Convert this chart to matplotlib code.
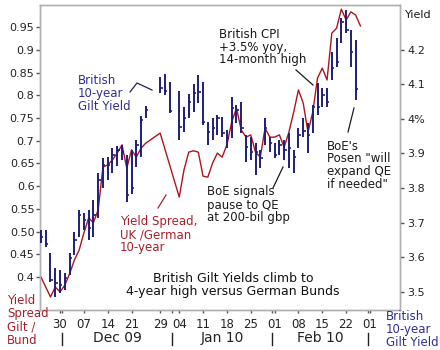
import numpy as np
import matplotlib
matplotlib.use("Agg")
import matplotlib.pyplot as plt
from matplotlib.lines import Line2D
import matplotlib.transforms as mtransforms

NaN = np.nan
start_date = "2009-11-24"   # first trading day shown (all weekdays are slots)

# British 10-year gilt yield, daily high / low / close (right axis, %)
gilt_high = [3.678, 3.678, 3.612, 3.568, 3.562, 3.554, 3.612, 3.672, 3.736, 3.728,
             3.736, 3.765, 3.843, 3.887, 3.890, 3.916, 3.922, 3.925, 3.896, 3.910,
             3.939, 4.009, 4.038, NaN, NaN, 4.122, 4.130, 4.107, NaN, 4.081,
             4.035, 4.072, 4.101, 4.128, 4.107, 3.991, 4.003, 4.012, 4.006, 3.968,
             4.064, 4.041, 4.049, 3.954, 3.948, 3.930, 3.910, 4.003, 3.948, 3.930,
             3.939, 3.939, 3.959, 3.910, 3.974, 4.003, 3.988, 4.041, 4.104, 4.090,
             4.090, 4.194, 4.235, 4.293, 4.316, 4.258, 4.229]
gilt_low = [3.641, 3.629, 3.527, 3.484, 3.496, 3.504, 3.548, 3.606, 3.658, 3.678,
            3.649, 3.658, 3.713, 3.800, 3.823, 3.843, 3.864, 3.881, 3.759, 3.783,
            3.861, 3.890, 4.003, NaN, NaN, 4.075, 4.070, 4.017, NaN, 3.939,
            3.962, 4.003, 4.020, 4.046, 3.983, 3.925, 3.939, 3.954, 3.948, 3.916,
            3.945, 3.988, 3.959, 3.875, 3.881, 3.838, 3.858, 3.925, 3.904, 3.887,
            3.896, 3.881, 3.858, 3.843, 3.916, 3.948, 3.901, 3.959, 4.012, 4.035,
            4.035, 4.113, 4.151, 4.220, 4.249, 4.151, 4.055]
gilt_close = [3.658, 3.638, 3.533, 3.525, 3.519, 3.539, 3.597, 3.649, 3.722, 3.707,
              3.684, 3.722, 3.823, 3.867, 3.867, 3.896, 3.910, 3.904, 3.780, 3.800,
              3.925, 3.997, 4.026, NaN, NaN, 4.090, 4.081, 4.023, NaN, 3.977,
              4.003, 4.049, 4.075, 4.078, 3.991, 3.962, 3.974, 4.003, 3.959, 3.945,
              4.032, 4.026, 3.974, 3.919, 3.904, 3.904, 3.887, 3.974, 3.930, 3.896,
              3.925, 3.910, 3.916, 3.890, 3.954, 3.965, 3.954, 4.035, 4.035, 4.070,
              4.049, 4.148, 4.165, 4.281, 4.258, 4.194, 4.087]

# UK / German 10-year yield spread (left axis, percentage points)
spread = [0.400, 0.378, 0.356, 0.378, 0.367, 0.382, 0.407, 0.437, 0.459, 0.497,
          0.530, 0.520, 0.548, 0.642, 0.647, 0.658, 0.673, 0.691, 0.640, 0.680,
          0.664, 0.684, 0.695, NaN, NaN, 0.717, NaN, NaN, NaN, 0.576,
          0.636, 0.675, 0.678, 0.675, 0.622, 0.620, 0.651, 0.673, 0.664, 0.691,
          0.741, 0.772, 0.724, 0.708, 0.713, 0.675, 0.664, 0.728, 0.708, 0.708,
          0.713, 0.686, 0.719, 0.763, 0.812, 0.783, 0.719, 0.763, 0.838, 0.860,
          0.834, 0.937, 0.948, 0.990, 0.966, 0.984, 0.977, 0.953]

tick_dates = ["2009-11-30", "2009-12-07", "2009-12-14", "2009-12-21", "2009-12-29",
              "2010-01-04", "2010-01-11", "2010-01-18", "2010-01-25", "2010-02-01",
              "2010-02-08", "2010-02-15", "2010-02-22", "2010-03-01"]
tick_labels = ["30", "07", "14", "21", "29", "04", "11", "18", "25", "01",
               "08", "15", "22", "01"]
month_starts = ["2009-12-01", "2010-01-01", "2010-02-01", "2010-03-01"]
month_labels = ["Dec 09", "Jan 10", "Feb 10"]

left_ticks = [0.40, 0.45, 0.50, 0.55, 0.60, 0.65, 0.70, 0.75, 0.80, 0.85, 0.90, 0.95]
left_labels = ["0.4", "0.45", "0.50", "0.55", "0.6", "0.65", "0.7", "0.75", "0.8",
               "0.85", "0.9", "0.95"]
right_ticks = [3.5, 3.6, 3.7, 3.8, 3.9, 4.0, 4.1, 4.2]
right_labels = ["3.5", "3.6", "3.7", "3.8", "3.9", "4%", "4.1", "4.2"]

# ---------------------------------------------------------------- styling
BLUE = "#1e1e7a"
BLUE_TXT = "#2e2e96"
RED = "#b0141e"
RED_TXT = "#a8202a"
GRAY = "#b0b0b0"
plt.rcParams["font.family"] = ["DejaVu Sans"]

W, H = 440, 350
fig = plt.figure(figsize=(W / 100, H / 100), dpi=100)
fig.patch.set_facecolor("white")

def fx(px):
    return px / W

def fy(py):
    return 1 - py / H

ax = fig.add_axes([fx(40), fy(310), fx(400) - fx(40), fy(5) - fy(310)])
ax2 = ax.twinx()

def busidx(d):
    return int(np.busday_count(start_date, d))

# spread line (left axis)
sp = np.array(spread, dtype=float)
xs = np.arange(len(sp))
ok = ~np.isnan(sp)
ax.plot(xs[ok], sp[ok], color=RED, lw=1.0, zorder=3)

# gilt bars (right axis)
gh = np.array(gilt_high, dtype=float)
gl = np.array(gilt_low, dtype=float)
gc = np.array(gilt_close, dtype=float)
xg = np.arange(len(gc))
m = ~np.isnan(gc)
ax2.vlines(xg[m], gl[m], gh[m], color=BLUE, lw=1.4, zorder=4)
ax2.hlines(gc[m], xg[m], xg[m] + 0.5, color=BLUE, lw=1.2, zorder=4)

ax.set_xlim(-0.2, 75.3)
ax.set_ylim(0.3273, 0.9991)
ax2.set_ylim(3.4464, 4.3304)

ax.set_yticks(left_ticks)
ax.set_yticklabels(left_labels)
ax2.set_yticks(right_ticks)
ax2.set_yticklabels(right_labels)

tick_pos = [busidx(d) for d in tick_dates]
ax.set_xticks(tick_pos)
ax.set_xticklabels(tick_labels)
bounds = [busidx(d) - 0.5 for d in month_starts]
ax.set_xticks(bounds, minor=True)

for a in (ax, ax2):
    for s in a.spines.values():
        s.set_color(GRAY)
        s.set_linewidth(1.0)
ax.tick_params(axis="y", direction="out", length=3, width=1, color="#555555",
               pad=1, labelsize=8, labelcolor="#222222")
ax2.tick_params(axis="y", direction="out", length=3, width=1, color="#555555",
                pad=2, labelsize=8, labelcolor="#222222")
ax.tick_params(axis="x", which="both", direction="out", length=2, width=1,
               color="#555555", pad=4, labelsize=8.5, labelcolor="#222222")

# month labels and separators below the axis
trans = mtransforms.blended_transform_factory(ax.transData, ax.transAxes)
for b in bounds:
    ax.add_line(Line2D([b, b], [-0.075, -0.115], transform=trans, color="#222222",
                       lw=1.0, clip_on=False))
for k, lab in enumerate(month_labels):
    cx = 0.5 * (bounds[k] + bounds[k + 1])
    ax.text(cx, -0.092, lab, transform=trans, ha="center", va="center",
            fontsize=10, color="#222222")

# ---------------------------------------------------------------- annotations
def block(x, y0, lines, dy, color, size=8.5, ha="left"):
    for k, s in enumerate(lines):
        fig.text(fx(x), fy(y0 + k * dy), s, ha=ha, va="center", fontsize=size,
                 color=color)

def leader(pts, color):
    fig.add_artist(Line2D([fx(p[0]) for p in pts], [fy(p[1]) for p in pts],
                          color=color, lw=0.9))

block(78, 81, ["British", "10-year", "Gilt Yield"], 13, BLUE_TXT)
leader([(130, 92), (137, 83), (152, 90)], "#20205a")

block(219, 34, ["British CPI", "+3.5% yoy,", "14-month high"], 13, "#1a1a1a")
leader([(296, 70), (313, 85)], "#1a1a1a")

block(327, 146, ["BoE's", 'Posen "will', "expand QE", 'if needed"'], 12.7, "#1a1a1a")
leader([(348, 132), (354, 108)], "#1a1a1a")

block(207, 192, ["BoE signals", "pause to QE", "at 200-bil gbp"], 13, "#1a1a1a")
leader([(273, 188), (283, 167)], "#1a1a1a")

block(120, 222, ["Yield Spread,", "UK /German", "10-year"], 13, RED_TXT)
leader([(158, 208), (166, 195)], RED_TXT)

block(233, 278, ["British Gilt Yields climb to", "4-year high versus German Bunds"],
      14, "#111111", size=9, ha="center")

block(7, 301, ["Yield", "Spread", "Gilt /", "Bund"], 13, RED_TXT)
block(386, 316, ["British", "10-year", "Gilt Yield"], 13, BLUE_TXT)
block(405, 15, ["Yield"], 13, "#1a1a1a", size=8)

fig.savefig("out.png", dpi=100, facecolor="white")
